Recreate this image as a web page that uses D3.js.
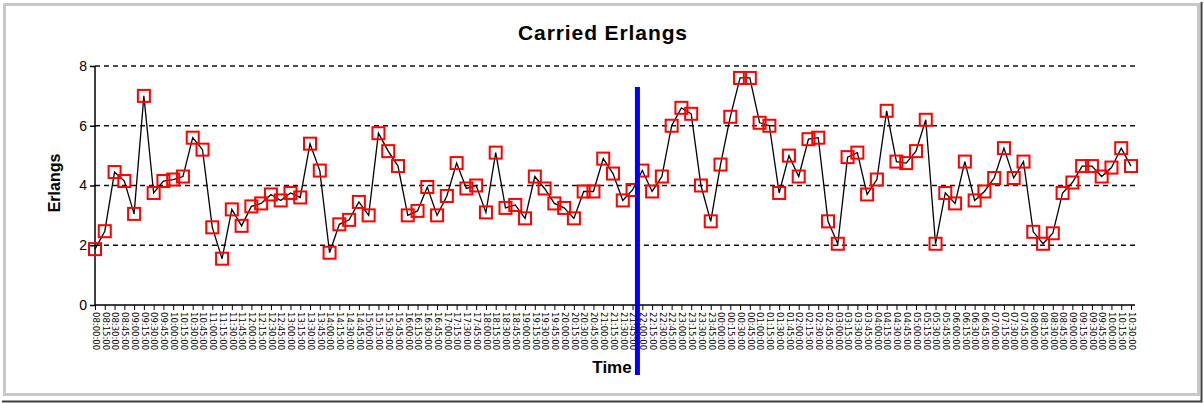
<!DOCTYPE html>
<html>
<head>
<meta charset="utf-8">
<script src="https://cdn.jsdelivr.net/npm/d3@7"></script>
<style>
  body { margin: 0; background: #fff; }
  text { font-family: "Liberation Sans", Arial, sans-serif; }
</style>
</head>
<body>
<div id="chart"></div>
<script>
// carried erlangs per interval
var erlangs = [
  1.87, 2.47, 4.45, 4.15, 3.05, 7.0, 3.75, 4.15, 4.2, 4.3,
  5.6, 5.2, 2.6, 1.55, 3.2, 2.65, 3.3, 3.4, 3.7, 3.5,
  3.75, 3.6, 5.4, 4.5, 1.75, 2.7, 2.85, 3.45, 3.0, 5.75,
  5.15, 4.65, 3.0, 3.15, 3.95, 3.0, 3.65, 4.75, 3.9, 4.0,
  3.1, 5.1, 3.25, 3.35, 2.9, 4.3, 3.9, 3.4, 3.25, 2.9,
  3.8, 3.8, 4.9, 4.4, 3.5, 3.85, 4.5, 3.8, 4.3, 6.0,
  6.6, 6.4, 4.0, 2.8, 4.7, 6.3, 7.6, 7.6, 6.1, 6.0,
  3.75, 5.0, 4.3, 5.55, 5.6, 2.8, 2.05, 4.95, 5.1, 3.7,
  4.2, 6.5, 4.8, 4.75, 5.15, 6.2, 2.05, 3.75, 3.4, 4.8,
  3.5, 3.8, 4.25, 5.25, 4.25, 4.8, 2.45, 2.05, 2.4, 3.75,
  4.1, 4.65, 4.65, 4.3, 4.6, 5.25, 4.65
];

// time labels are unreadable in the source: one per interval, 15 min apart
var startTime = new Date(2005, 0, 10, 8, 0);
var stepMinutes = 15;
var times = erlangs.map(function(d, i) { return d3.timeMinute.offset(startTime, i * stepMinutes); });
var fmt = d3.timeFormat("%H:%M:%S");

var yTicks = [0, 2, 4, 6, 8];
var markerIndex = 55.5;   // blue "now" marker between two intervals

var W = 1204, H = 403;
var margin = {top: 66, right: 71, bottom: 98, left: 95},
    width = W - margin.left - margin.right,
    height = H - margin.top - margin.bottom;

var svg = d3.select('#chart').append('svg')
  .attr('width', W)
  .attr('height', H);

// window frame
svg.append('rect').attr('x', 0).attr('y', 0).attr('width', W).attr('height', H).attr('fill', '#fff');
svg.append('rect')
  .attr('x', 4.5).attr('y', 4.5).attr('width', 1194).attr('height', 390)
  .attr('fill', '#fff').attr('stroke', '#c8c8c8').attr('stroke-width', 3);
svg.append('path')
  .attr('d', 'M1201.5,2V401.5H2')
  .attr('fill', 'none').attr('stroke', '#404040').attr('stroke-width', 2);

svg.append('text')
  .attr('x', 603).attr('y', 40)
  .attr('text-anchor', 'middle')
  .style('font-size', '21px').style('font-weight', 'bold').style('letter-spacing', '0.9px')
  .text('Carried Erlangs');

var g = svg.append('g')
  .attr('transform', 'translate(' + margin.left + ',' + margin.top + ')');

var x = d3.scalePoint().domain(d3.range(erlangs.length)).range([0, width - 2]),
    y = d3.scaleLinear().domain([0, 8]).range([height, 0]);

// dashed grid
g.selectAll('.grid')
  .data(yTicks.filter(function(d) { return d > 0; }))
  .enter().append('line')
  .attr('x1', 0).attr('x2', width + 2)
  .attr('y1', function(d) { return y(d); }).attr('y2', function(d) { return y(d); })
  .attr('stroke', '#111').attr('stroke-width', 1.5).attr('stroke-dasharray', '5,4');

// y axis
var yAxis = g.append('g')
  .call(d3.axisLeft(y).tickValues(yTicks).tickSize(5).tickPadding(3).tickFormat(d3.format('d')));
yAxis.select('.domain').attr('stroke', '#000').attr('stroke-width', 1.5).attr('d', 'M0,' + height + 'V0');
yAxis.selectAll('.tick line').attr('stroke', '#000').attr('stroke-width', 1.5);
yAxis.selectAll('.tick text').style('font-size', '14px').style('font-family', '"Liberation Sans", Arial, sans-serif').attr('fill', '#000');

// x axis with rotated time labels
var xAxis = g.append('g')
  .attr('transform', 'translate(0,' + height + ')')
  .call(d3.axisBottom(x).tickSize(5).tickPadding(3).tickFormat(function(i) { return fmt(times[i]); }));
xAxis.select('.domain').attr('stroke', '#000').attr('stroke-width', 1.5).attr('d', 'M0,0H' + (width + 2));
xAxis.selectAll('.tick line').attr('stroke', '#000');
xAxis.selectAll('.tick text')
  .style('font-size', '8.5px').style('font-family', '"DejaVu Sans", sans-serif')
  .attr('fill', '#000')
  .attr('text-anchor', 'start')
  .attr('transform', 'rotate(90)')
  .attr('x', 7).attr('y', 0).attr('dy', '0.32em');

// line
var line = d3.line()
  .x(function(d, i) { return x(i); })
  .y(function(d) { return y(d); });

g.append('path')
  .datum(erlangs)
  .attr('fill', 'none')
  .attr('stroke', '#000')
  .attr('stroke-width', 1.3)
  .attr('d', line);

// square markers
var s = 12;
g.selectAll('.pt')
  .data(erlangs)
  .enter().append('rect')
  .attr('class', 'pt')
  .attr('x', function(d, i) { return x(i) - s / 2; })
  .attr('y', function(d) { return y(d) - s / 2; })
  .attr('width', s).attr('height', s)
  .attr('fill', 'none')
  .attr('stroke', '#ff0000')
  .attr('stroke-width', 2);

// blue marker line
var mx = x(Math.floor(markerIndex)) + (markerIndex % 1) * x.step();
g.append('line')
  .attr('x1', mx).attr('x2', mx)
  .attr('y1', y(7.3)).attr('y2', height + 70)
  .attr('stroke', '#0000ff').attr('stroke-width', 5);

// axis titles
svg.append('text')
  .attr('x', 612).attr('y', 373)
  .attr('text-anchor', 'middle')
  .style('font-size', '17px').style('font-weight', 'bold')
  .text('Time');

svg.append('text')
  .attr('transform', 'translate(60,183) rotate(-90)')
  .attr('text-anchor', 'middle')
  .style('font-size', '16px').style('font-weight', 'bold')
  .text('Erlangs');
</script>
</body>
</html>
